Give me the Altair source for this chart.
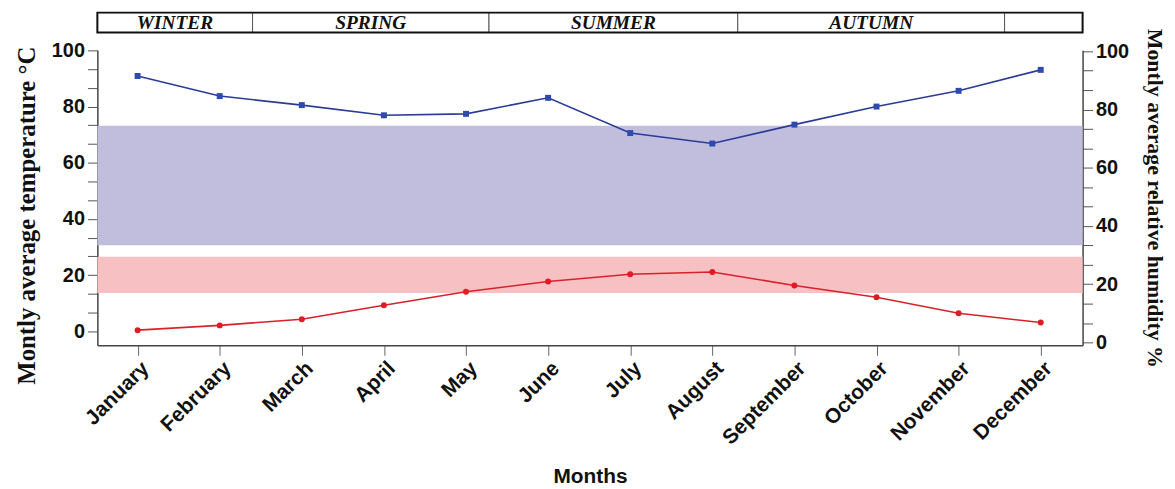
import altair as alt
import pandas as pd

months = ["January", "February", "March", "April", "May", "June",
          "July", "August", "September", "October", "November", "December"]
month_index = list(range(12))
temperature = [0.4, 2.1, 4.3, 9.3, 14.1, 17.7, 20.3, 21.1, 16.3, 12.1, 6.4, 3.1]
humidity = [91.5, 84.6, 81.5, 78.0, 78.5, 84.0, 71.9, 68.3, 74.8, 81.0, 86.4, 93.6]

# comfort bands (read on the left axis)
band_kind = ["humidity", "temperature"]
band_low = [30.6, 13.6]
band_high = [73.2, 26.5]

season_names = ["WINTER", "SPRING", "SUMMER", "AUTUMN", ""]
season_start = [-0.49, 1.40, 4.28, 7.31, 10.56]
season_end = [1.40, 4.28, 7.31, 10.56, 11.51]

x_domain = [-0.49, 11.51]
left_domain = [-5, 100]
right_domain = [-1, 100.3]
y_tick_values = [0, 6.6667, 13.3333, 20, 26.6667, 33.3333, 40, 46.6667, 53.3333,
                 60, 66.6667, 73.3333, 80, 86.6667, 93.3333, 100]

df = pd.DataFrame({"idx": month_index, "month": months,
                   "temp": temperature, "hum": humidity})
band_df = pd.DataFrame({"kind": band_kind, "lo": band_low, "hi": band_high,
                        "x0": [x_domain[0]] * 2, "x1": [x_domain[1]] * 2})
season_df = pd.DataFrame({"name": season_names, "s": season_start, "e": season_end})
frame_df = pd.DataFrame({"s": [x_domain[0]], "e": [x_domain[1]]})

month_js = "[" + ",".join("'%s'" % m for m in months) + "]"
label_expr_y = "abs(datum.value/20 - round(datum.value/20)) < 0.01 ? '' + round(datum.value) : ''"

xscale = alt.Scale(domain=x_domain, nice=False, zero=False)
x_axis = alt.Axis(values=month_index, labelExpr=month_js + "[datum.value]",
                  title="Months", labelAngle=-45, labelAlign="right", labelBaseline="top",
                  labelOverlap=False, labelFlush=False,
                  labelFont="Liberation Sans", labelFontWeight="bold", labelFontSize=21,
                  labelColor="#111", titleFont="Liberation Sans", titleFontWeight="bold",
                  titleFontSize=21, titleColor="#111", titlePadding=18,
                  tickSize=10, tickColor="#666", domainColor="#444", domainWidth=1.5,
                  grid=False, labelPadding=2)

common_y = dict(values=y_tick_values, labelExpr=label_expr_y, grid=False,
                labelFont="Liberation Sans", labelFontWeight="bold", labelFontSize=20,
                labelColor="#111", titleFont="Liberation Serif", titleFontWeight="bold",
                titleColor="#111", tickSize=10, tickColor="#555",
                domainColor="#444", domainWidth=1.5, labelPadding=3, labelOverlap=False)

left_axis = alt.Axis(title="Montly average temperature °C", orient="left",
                     titlePadding=12, titleY=166, titleFontSize=25, **common_y)
right_axis = alt.Axis(title="Montly average relative humidity %", orient="right",
                      titlePadding=14, titleAngle=90, titleFontSize=22, **common_y)

lscale = alt.Scale(domain=left_domain, nice=False, zero=False)
rscale = alt.Scale(domain=right_domain, nice=False, zero=False)

bands = alt.Chart(band_df).mark_rect(opacity=1).encode(
    x=alt.X("x0:Q", scale=xscale, axis=x_axis),
    x2="x1:Q",
    y=alt.Y("lo:Q", scale=lscale, axis=left_axis),
    y2="hi:Q",
    color=alt.Color("kind:N", scale=alt.Scale(domain=band_kind,
                                              range=["#c1bedd", "#f7c1c3"]), legend=None),
)

temp_line = alt.Chart(df).mark_line(color="#d8222a", strokeWidth=1.6).encode(
    x=alt.X("idx:Q", scale=xscale, axis=x_axis),
    y=alt.Y("temp:Q", scale=lscale, axis=left_axis),
)
temp_pts = alt.Chart(df).mark_point(filled=True, shape="circle", size=36,
                                    color="#e01b24", opacity=1).encode(
    x=alt.X("idx:Q", scale=xscale, axis=x_axis),
    y=alt.Y("temp:Q", scale=lscale, axis=left_axis),
)

season_box = alt.Chart(season_df).mark_rect(fill="white", stroke="#555",
                                            strokeWidth=1).encode(
    x=alt.X("s:Q", scale=xscale, axis=x_axis),
    x2="e:Q",
    y=alt.value(-38),
    y2=alt.value(-18),
)
season_frame = alt.Chart(frame_df).mark_rect(fill=None, stroke="#111",
                                             strokeWidth=2).encode(
    x=alt.X("s:Q", scale=xscale, axis=x_axis),
    x2="e:Q",
    y=alt.value(-38),
    y2=alt.value(-18),
)
season_text = alt.Chart(season_df).transform_calculate(
    mid="(datum.s + datum.e) / 2"
).mark_text(font="Liberation Serif", fontWeight="bold", fontStyle="italic",
            fontSize=19.5, color="#111", baseline="middle", align="center").encode(
    x=alt.X("mid:Q", scale=xscale, axis=x_axis),
    y=alt.value(-28),
    text="name:N",
)

temp_group = alt.layer(bands, temp_line, temp_pts, season_box, season_frame, season_text)

hum_line = alt.Chart(df).mark_line(color="#2b3b96", strokeWidth=1.6).encode(
    x=alt.X("idx:Q", scale=xscale, axis=x_axis),
    y=alt.Y("hum:Q", scale=rscale, axis=right_axis),
)
hum_pts = alt.Chart(df).mark_point(filled=True, shape="square", size=36,
                                   color="#2f4aae", opacity=1).encode(
    x=alt.X("idx:Q", scale=xscale, axis=x_axis),
    y=alt.Y("hum:Q", scale=rscale, axis=right_axis),
)
hum_group = alt.layer(hum_line, hum_pts)

chart = alt.layer(temp_group, hum_group).resolve_scale(y="independent").properties(
    width=1167, height=481, background="white",
    autosize=alt.AutoSizeParams(type="fit", contains="padding"),
    padding={"left": 6, "top": 2, "right": 1, "bottom": 0},
).configure_view(stroke=None)

chart.save("out.html", embed_options={"renderer": "svg", "actions": False})
